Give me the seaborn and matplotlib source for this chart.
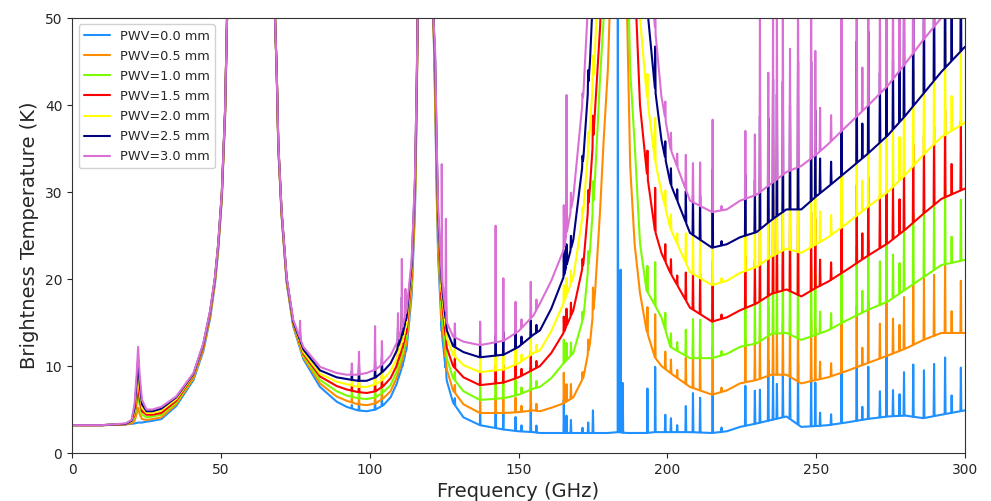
import matplotlib
matplotlib.use("Agg")
import matplotlib.pyplot as plt
import seaborn as sns
import pandas as pd
import numpy as np

# continuum knots (GHz) shared by every PWV curve
freq = [0, 10, 18, 20, 21, 21.7, 22.2, 22.7, 23.5, 25, 27, 30, 35, 40.8, 44.1, 46.4, 48, 49.1, 50.3, 51.4, 52.2, 54, 60, 66,
        68.2, 68.8, 69.3, 70.4, 72.1, 74.3, 77.7, 83.3, 88.9, 92.3, 96, 99, 102, 104.6, 107, 109, 111, 112.4, 114.1, 115.2, 115.8, 116.1,
        117.5, 118.75, 120, 121.4, 122, 122.5, 123, 124.2, 125.9, 128, 131.5, 137,
        145, 150, 155, 157.2, 161, 165.1, 168.4, 171.8, 174, 175.7, 177.4, 178.6, 180, 181.5, 183.3, 185, 186.5, 187.5, 189, 190.8, 193, 195.8, 198, 201, 207.6, 215,
        220, 224.4, 230, 235, 240, 245, 250, 254, 260, 267, 274, 280, 286, 292, 300]

tb_00 = [3.2, 3.2, 3.3, 3.35, 3.4, 3.45, 3.5, 3.5, 3.5, 3.6, 3.7, 3.9, 5.4, 8.4, 11.7, 15.5, 19.4, 23.3, 29.1, 38.6, 52, 120, 250, 120,
         50, 43, 35, 27.3, 19.6, 14.6, 10.8, 7.6, 5.9, 5.3, 4.9, 4.8, 5.0, 5.5, 6.4, 7.9, 10.0, 12.0, 18.2, 27.8, 40, 50,
         150, 250, 150, 50, 40, 30, 22.5, 14, 8.3, 5.8, 4.1, 3.2,
         2.7, 2.5, 2.4, 2.3, 2.3, 2.3, 2.3, 2.3, 2.3, 2.3, 2.3, 2.3, 2.3, 2.35, 2.4, 2.35, 2.3, 2.3, 2.3, 2.3, 2.3, 2.4, 2.4, 2.4, 2.4, 2.3,
         2.5, 3.0, 3.4, 3.8, 4.2, 3.0, 3.1, 3.2, 3.5, 3.9, 4.2, 4.3, 4.0, 4.4, 4.9]
tb_05 = [3.2, 3.2, 3.3, 3.4, 3.7, 4.5, 5.2, 4.5, 3.9, 3.8, 3.9, 4.1, 5.6, 8.6, 11.9, 15.7, 19.6, 23.5, 29.3, 38.8, 52, 120, 250, 120,
         50, 43.1, 35.1, 27.4, 19.7, 14.7, 11.0, 8.0, 6.5, 6.0, 5.6, 5.5, 5.7, 6.3, 7.1, 8.6, 10.7, 12.7, 18.9, 28.5, 40.5, 50,
         150, 250, 150, 50, 41, 31, 23.5, 15.2, 9.6, 7.2, 5.6, 4.6,
         4.6, 4.7, 4.9, 4.8, 5.2, 5.7, 6.4, 8.7, 12.6, 18.4, 27.9, 36, 44, 60, 180, 80, 50, 33, 24, 18.4, 14.1, 11, 10, 9.2, 7.6, 6.7,
         7.2, 8.0, 8.4, 9.0, 9.0, 8.0, 8.4, 8.7, 9.4, 10.3, 11.2, 12.0, 13.0, 13.8, 13.8]
tb_10 = [3.2, 3.2, 3.3, 3.5, 4.1, 5.5, 6.9, 5.5, 4.4, 4.1, 4.2, 4.4, 5.8, 8.8, 12.1, 15.9, 19.8, 23.7, 29.5, 39.0, 52, 120, 250, 120,
         50, 43.1, 35.2, 27.5, 19.8, 14.8, 11.2, 8.4, 7.1, 6.6, 6.3, 6.2, 6.4, 7.0, 7.8, 9.3, 11.4, 13.4, 19.6, 29.2, 41, 50,
         150, 250, 150, 50, 42, 32, 24.5, 16.4, 10.9, 8.6, 7.1, 6.1,
         6.3, 6.7, 7.4, 7.6, 8.6, 10.3, 11.5, 15.6, 23.3, 31.7, 43.2, 50, 65, 100, 200, 100, 60, 44, 35.6, 24.1, 18.7, 17, 15.6, 12.2, 10.9, 10.9,
         11.4, 12.2, 12.6, 13.7, 13.8, 13.0, 13.6, 14.1, 15.2, 16.4, 17.4, 18.8, 20.2, 21.6, 22.2]
tb_15 = [3.2, 3.2, 3.3, 3.55, 4.4, 6.2, 7.9, 6.2, 4.8, 4.4, 4.4, 4.6, 6.0, 8.9, 12.2, 16.0, 19.9, 23.8, 29.6, 39.1, 52, 120, 250, 120,
         50, 43.2, 35.3, 27.6, 19.9, 14.9, 11.4, 8.8, 7.7, 7.3, 7.0, 6.9, 7.1, 7.7, 8.6, 10.0, 12.1, 14.0, 20.3, 29.9, 41.5, 50,
         150, 250, 150, 50, 43, 33, 25.5, 17.5, 12.1, 10.0, 8.7, 7.8,
         8.1, 8.7, 9.6, 10.0, 11.5, 13.8, 16.4, 21.8, 30.6, 39.4, 49, 60, 80, 120, 220, 120, 85, 65, 55, 40, 32.5, 25.6, 23, 20.7, 16.7, 15.1,
         15.6, 16.4, 17.2, 18.3, 18.8, 18.0, 19.0, 19.7, 21.0, 22.6, 24.1, 25.7, 27.5, 29.2, 30.4]
tb_20 = [3.2, 3.2, 3.35, 3.6, 4.7, 7.1, 9.3, 7.1, 5.2, 4.6, 4.6, 4.9, 6.2, 9.0, 12.4, 16.2, 20.0, 23.9, 29.7, 39.2, 52, 120, 250, 120,
         50, 43.2, 35.4, 27.7, 20.0, 15.0, 11.6, 9.1, 8.2, 7.9, 7.6, 7.6, 7.9, 8.5, 9.4, 10.8, 12.8, 14.8, 21.0, 30.6, 42, 50,
         150, 250, 150, 50, 44, 34, 26.5, 18.5, 13.2, 11.3, 10.1, 9.3,
         9.6, 10.3, 11.5, 11.8, 14.0, 17.2, 20.2, 27.9, 37.5, 46.3, 60, 75, 100, 140, 230, 140, 100, 80, 62, 50, 41.4, 33.7, 30, 25.8, 20.8, 19.3,
         19.8, 20.7, 21.4, 22.6, 23.5, 23.0, 24.0, 24.8, 26.3, 28.2, 30.0, 32.0, 34.3, 36.3, 38.0]
tb_25 = [3.2, 3.2, 3.35, 3.7, 5.1, 8.0, 10.8, 8.0, 5.6, 4.8, 4.8, 5.1, 6.4, 9.1, 12.5, 16.3, 20.1, 24.0, 29.8, 39.3, 52, 120, 250, 120,
         50, 43.3, 35.5, 27.8, 20.1, 15.1, 11.9, 9.5, 8.7, 8.5, 8.3, 8.3, 8.7, 9.4, 10.3, 11.7, 13.6, 15.6, 21.6, 31.2, 42.5, 50,
         150, 250, 150, 50, 45, 35, 27.2, 19.4, 14.1, 12.3, 11.6, 11.0,
         11.3, 12.2, 13.6, 14.1, 16.6, 20.2, 24.5, 34, 45, 58, 75, 95, 120, 160, 240, 160, 120, 95, 75, 60, 52, 42, 36, 31, 25.3, 23.6,
         24.0, 24.8, 25.4, 26.8, 28.0, 28.0, 29.5, 30.6, 32.3, 34.3, 36.5, 38.8, 41.3, 43.8, 46.7]
tb_30 = [3.2, 3.2, 3.4, 3.8, 5.6, 9.0, 12.2, 9.0, 6.1, 5.0, 5.0, 5.3, 6.5, 9.2, 12.6, 16.4, 20.2, 24.1, 29.9, 39.4, 52, 120, 250, 120,
         50, 43.3, 35.6, 27.9, 20.2, 15.3, 12.2, 9.9, 9.2, 9.0, 9.0, 9.2, 9.6, 10.3, 11.2, 12.6, 14.5, 16.4, 22.2, 31.7, 43, 50,
         150, 250, 150, 50, 46, 36, 28, 20.2, 15.0, 13.4, 12.8, 12.4,
         12.9, 14.0, 15.8, 17.2, 19.8, 23.3, 29.4, 41.4, 56, 70, 90, 110, 140, 180, 250, 180, 140, 110, 90, 75, 62, 49, 41, 35, 29, 27.7,
         28.0, 29.0, 29.7, 31.0, 32.3, 33.0, 34.3, 35.5, 37.5, 39.8, 42.2, 44.8, 47.5, 50.0, 54.0]

# narrow spectral lines: centre frequency and height above the continuum for each PWV
line_freq = [76.6, 94.0, 96.4, 101.8, 104.1, 109.5, 110.8, 112.0,
             124.2, 125.6, 128.6, 137.1, 142.3, 144.9, 149.0, 151.0, 154.1, 156.0,
             165.2, 166.1, 167.6, 171.5, 173.4, 175.0, 183.35, 184.3, 185.0,
             193.3, 195.9, 199.3, 201.2, 203.3, 206.2, 208.6, 211.0, 215.2, 218.2,
             226.2, 229.4, 231.1, 233.9, 235.5, 236.8, 238.8, 241.2, 243.9,
             248.3, 249.7, 251.3, 255.0, 258.5, 263.6, 265.5, 267.5, 271.4, 273.6,
             275.8, 278.0, 279.5, 282.6, 286.2, 289.6, 293.3, 295.5, 298.6]
amp_00 = [.3, .4, .9, 1.2, 1.0, .8, 1.5, .8,
          2, 1.5, .8, 1.5, 1.9, 1.8, 1.6, .7, 2.7, .8,
          3.8, 2.0, 1.5, .6, 1.2, 2.6, 60, 18.7, 5.7,
          5.1, 7.5, 2, 1.6, .8, 3, 4.5, 4, 4.8, .5,
          4.6, 3.8, 3.8, 7, 5, 4, 5, 6, 7,
          5.7, 5, 1.5, 1.2, 5.9, 6, 1.5, 6, 3, 7,
          3, 2.5, 5, 6, 5.5, 6, 6.5, 2, 5]
amp_05 = [.4, .5, 1.0, 1.3, 1.1, 1.0, 1.8, 1.0,
          2.5, 2, .9, 1.5, 2.0, 1.9, 1.7, .7, 2.6, .8,
          3.5, 2.0, 1.7, .8, 1.5, 3, 60, 18.7, 5.7,
          3, 5, 2, 1.6, .9, 3, 4.5, 4.2, 5.5, .5,
          5, 4.2, 5, 8, 7, 5, 6, 7, 8,
          7, 6, 2, 1.5, 7, 7, 2, 7, 4, 8,
          4, 3, 6, 7, 7, 7, 8, 2.5, 6]
amp_10 = [.5, .6, 1.2, 1.4, 1.2, 1.2, 2.2, 1.2,
          3, 2.5, 1.0, 1.5, 2.0, 2.0, 1.8, .7, 2.5, .8,
          2.7, 2.0, 1.5, 1.0, 2, 3, 60, 18.7, 5.7,
          3, 5, 2, 1.6, 1.0, 3, 4.5, 4.4, 6.2, .5,
          5.5, 4.6, 6, 9, 9, 7, 8, 8, 10,
          8, 7, 2.5, 1.8, 8, 8, 2.5, 8, 5, 9,
          5, 3.5, 7, 8, 8, 8, 9, 3, 7]
amp_15 = [.6, .7, 1.4, 1.5, 1.3, 1.5, 2.8, 1.5,
          3.5, 3, 1.1, 1.5, 2.1, 2.0, 1.9, .8, 2.3, .8,
          1.8, 2.0, 1.5, 1.0, 2, 3, 60, 18.7, 5.7,
          3, 5, 2, 1.7, 1.1, 3.2, 4.5, 4.6, 7, .5,
          6, 5, 8, 10, 11, 9, 10, 9, 12,
          9, 8, 3, 2, 9.5, 9, 3, 9, 6, 10,
          6, 4, 8, 9, 9, 9, 10, 3.5, 8]
amp_20 = [.8, .8, 1.6, 1.6, 1.4, 1.8, 3.5, 1.8,
          4, 3.5, 1.2, 1.5, 2.1, 2.1, 2.0, .8, 2.1, .8,
          2.0, 2.0, 1.5, 1.0, 2, 3, 60, 18.7, 5.7,
          3, 5, 2, 1.8, 1.2, 3.4, 4.5, 4.8, 8, .5,
          6.5, 5.5, 10, 11, 13, 11, 12, 10, 14,
          11, 9, 3.5, 2.3, 11, 11, 3.5, 11, 7, 12,
          7, 5, 10, 11, 11, 11, 12, 4, 10]
amp_25 = [1.0, 1.0, 1.9, 1.8, 1.6, 2.2, 4.5, 2.2,
          5, 4, 1.4, 1.4, 2.3, 2.6, 2.3, .9, 1.9, .9,
          3.0, 2.5, 1.5, 1.0, 2, 3, 60, 18.7, 5.7,
          3, 5, 2, 1.9, 1.3, 3.6, 4.5, 5, 9, .5,
          7, 6, 13, 12, 16, 14, 15, 12, 17,
          16, 10, 4, 2.6, 14, 14, 4, 14, 8, 15,
          8, 6, 12, 14, 13, 14, 15, 5, 12]
amp_30 = [2.0, 1.3, 2.6, 5.0, 2.7, 3.0, 8.0, 3.0,
          13, 11, 1.6, 2.7, 13.4, 7.2, 3.6, 1.0, 4.2, 1.2,
          5.0, 16, 2.0, 1.0, 2, 3, 60, 18.7, 5.7,
          3, 5, 2, 2, 1.5, 4, 4.5, 5, 10.6, .5,
          7.8, 7, 21, 13, 20, 20, 20, 14, 22,
          22, 12, 5, 3, 20, 20, 5, 20, 10, 20,
          10, 8, 18, 20, 18, 20, 20, 6, 16]

labels = ["PWV=0.0 mm", "PWV=0.5 mm", "PWV=1.0 mm", "PWV=1.5 mm",
          "PWV=2.0 mm", "PWV=2.5 mm", "PWV=3.0 mm"]
colors = ["#1e90ff", "#ff8c00", "#7cfc00", "#ff0000", "#ffff00", "#000080", "#da70d6"]

continua = [tb_00, tb_05, tb_10, tb_15, tb_20, tb_25, tb_30]
amps = [amp_00, amp_05, amp_10, amp_15, amp_20, amp_25, amp_30]

half_width = 0.15  # GHz, drawing width of a line spike

frames = []
for label, tb, amp in zip(labels, continua, amps):
    assert len(tb) == len(freq) and len(amp) == len(line_freq), label
    f_all = list(freq)
    t_all = list(tb)
    for lf, a in zip(line_freq, amp):
        for df, extra in ((-half_width, 0.0), (0.0, a), (half_width, 0.0)):
            f_all.append(lf + df)
            t_all.append(float(np.interp(lf + df, freq, tb)) + extra)
    order = np.argsort(f_all, kind="stable")
    frames.append(pd.DataFrame({"freq": np.array(f_all)[order],
                                "tb": np.array(t_all)[order],
                                "pwv": label}))
df = pd.concat(frames, ignore_index=True)

sns.set_style("ticks")
plt.rcParams["font.family"] = ["DejaVu Sans"]

fig, ax = plt.subplots(figsize=(9.91, 5.01), dpi=100)
fig.subplots_adjust(left=0.0727, right=0.9738, bottom=0.0958, top=0.964)

sns.lineplot(data=df, x="freq", y="tb", hue="pwv", hue_order=labels,
             palette=colors, estimator=None, sort=False, legend=False,
             linewidth=1.5, ax=ax)

ax.set_xlim(0, 300)
ax.set_ylim(0, 50)
ax.set_xticks(range(0, 301, 50))
ax.set_yticks(range(0, 51, 10))
ax.tick_params(labelsize=10)
ax.set_xlabel("Frequency (GHz)", fontsize=14)
ax.set_ylabel("Brightness Temperature (K)", fontsize=14)
for side in ["top", "right", "left", "bottom"]:
    ax.spines[side].set_visible(True)
    ax.spines[side].set_color("#333333")

ax.legend(ax.lines[:len(labels)], labels, loc="upper left", fontsize=9.3,
          labelspacing=0.55, frameon=True, framealpha=0.9, edgecolor="#cccccc")

plt.savefig("out.png", dpi=100)
